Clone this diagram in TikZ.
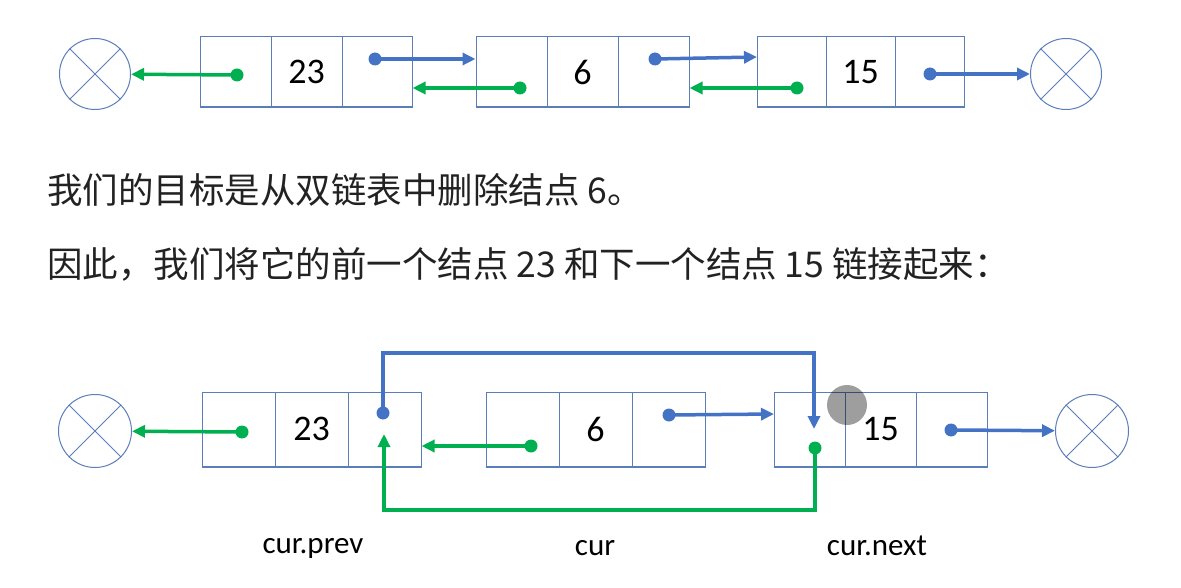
\documentclass[tikz,border=0pt]{standalone}
\usepackage{fontspec}
\setmainfont{Carlito}
\newfontfamily\cjk{Noto Sans CJK SC}
\usetikzlibrary{arrows.meta}
\definecolor{lblue}{HTML}{4472C4}
\definecolor{lgreen}{HTML}{00B050}
\definecolor{boxc}{HTML}{5B7DB8}
\definecolor{txtc}{HTML}{222222}
\begin{document}
\begin{tikzpicture}[x=1pt,y=-1pt,
  cell/.style={draw=boxc, line width=1pt, inner sep=0pt, font=\fontsize{36}{42}\selectfont},
  topcell/.style={cell, minimum height=70pt},
  botcell/.style={cell, minimum height=74pt},
  nullc/.style={circle, draw=boxc, line width=1pt, inner sep=0pt, minimum size=71pt},
  dotb/.style={circle, fill=lblue, inner sep=0pt, minimum size=13pt},
  dotg/.style={circle, fill=lgreen, inner sep=0pt, minimum size=13pt},
  arrb/.style={draw=lblue, line width=3.5pt, -{Triangle[length=13pt,width=12pt]}},
  arrg/.style={draw=lgreen, line width=3.5pt, -{Triangle[length=13pt,width=12pt]}},
  lbl/.style={font=\fontsize{31}{36}\selectfont, text=black, inner sep=0pt},
  cn/.style={font=\cjk\fontsize{35.5}{42}\selectfont, text=txtc, inner sep=0pt, anchor=west},
  shadowline/.style={draw=boxc, line width=2pt}
]
\useasboundingbox (0,0) rectangle (1181,588);

% ---------- top row ----------
\node[nullc] (nL1) at (95,74) {};
\draw[boxc, line width=1pt] (nL1.north west) -- (nL1.south east) (nL1.north east) -- (nL1.south west);
\node[topcell, minimum width=71pt] (t1a) at (235.5,72) {};
\node[topcell, minimum width=71pt] (t1b) at (306.5,72) {23};
\node[topcell, minimum width=70pt] (t1c) at (377,72) {};
\node[topcell, minimum width=71pt] (t2a) at (511.5,72) {};
\node[topcell, minimum width=71pt] (t2b) at (582.5,72) {6};
\node[topcell, minimum width=71pt] (t2c) at (653.5,72) {};
\node[topcell, minimum width=69pt] (t3a) at (791.5,72) {};
\node[topcell, minimum width=69pt] (t3b) at (860.5,72) {15};
\node[topcell, minimum width=69pt] (t3c) at (929.5,72) {};
\node[nullc] (nR1) at (1066,74) {};
\draw[boxc, line width=1pt] (nR1.north west) -- (nR1.south east) (nR1.north east) -- (nR1.south west);
\draw[shadowline] (t1a.south west) -- (t1c.south east);
\draw[shadowline] (t2a.south west) -- (t2c.south east);
\draw[shadowline] (t3a.south west) -- (t3c.south east);

\node[dotg] (g1) at (237,75) {};
\draw[arrg] (g1.center) -- (nL1);
\node[dotb] (b1) at (375,59) {};
\draw[arrb] (b1.center) -- (b1 -| t2a.west);
\node[dotg] (g2) at (520,88) {};
\draw[arrg] (g2.center) -- (g2 -| t1c.east);
\node[dotb] (b2) at (655,59) {};
\coordinate (b2t) at (757,57);
\draw[arrb] (b2.center) -- (b2t);
\node[dotg] (g3) at (797,88) {};
\draw[arrg] (g3.center) -- (g3 -| t2c.east);
\node[dotb] (b3) at (930,74) {};
\draw[arrb] (b3.center) -- (nR1);

% ---------- text ----------
\node[cn] (s1) at (47,190) {我们的目标是从双链表中删除结点 6。};
\node[cn] (s2) at (47,264) {因此，我们将它的前一个结点 23 和下一个结点 15 链接起来：};

% ---------- bottom row ----------
\node[nullc, minimum size=73pt] (nL2) at (95,431) {};
\draw[boxc, line width=1pt] (nL2.north west) -- (nL2.south east) (nL2.north east) -- (nL2.south west);
\node[botcell, minimum width=73pt] (u1a) at (238.5,429) {};
\node[botcell, minimum width=73pt] (u1b) at (311.5,429) {23};
\node[botcell, minimum width=73pt] (u1c) at (384.5,429) {};
\node[botcell, minimum width=73pt] (u2a) at (522.5,429) {};
\node[botcell, minimum width=73pt] (u2b) at (595.5,429) {6};
\node[botcell, minimum width=73pt] (u2c) at (668.5,429) {};
\node[botcell, minimum width=71pt] (u3a) at (809.5,429) {};
\node[botcell, minimum width=71pt] (u3b) at (880.5,429) {15};
\node[botcell, minimum width=71pt] (u3c) at (951.5,429) {};
\node[nullc, minimum size=73pt] (nR2) at (1092,431) {};
\draw[boxc, line width=1pt] (nR2.north west) -- (nR2.south east) (nR2.north east) -- (nR2.south west);
\draw[shadowline] (u1a.south west) -- (u1c.south east);
\draw[shadowline] (u2a.south west) -- (u2c.south east);
\draw[shadowline] (u3a.south west) -- (u3c.south east);

\node[dotg] (g4) at (242,432) {};
\draw[arrg] (g4.center) -- (nL2);
\node[dotg] (g5) at (531,446) {};
\draw[arrg] (g5.center) -- (g5 -| u1c.east);
\node[dotb] (b5) at (669,415) {};
\coordinate (b5t) at (774,414);
\draw[arrb] (b5.center) -- (b5t);
\node[dotb] (b6) at (951,430) {};
\draw[arrb] (b6.center) -- (nR2);

% new next link 23 -> 15
\node[dotb] (b4) at (383,413) {};
\coordinate (k2) at (814,353);
\coordinate (k3) at (814,429);
\draw[arrb, line join=miter] (b4.center) |- (k2) -- (k3);
% new prev link 15 -> 23
\node[dotg] (g6) at (815,448) {};
\coordinate (m1) at (815,510);
\coordinate (m2) at (384,434);
\draw[arrg, line join=miter] (g6.center) -- (m1) -| (m2);

% touch indicator
\node[circle, fill=black, fill opacity=0.38, inner sep=0pt, minimum size=40pt] (touch) at (847,405) {};

% labels
\node[lbl] (lp) at (313,548) {cur.prev};
\node[lbl] (lc) at (595,548) {cur};
\node[lbl] (ln) at (877,546) {cur.next};
\end{tikzpicture}
\end{document}
